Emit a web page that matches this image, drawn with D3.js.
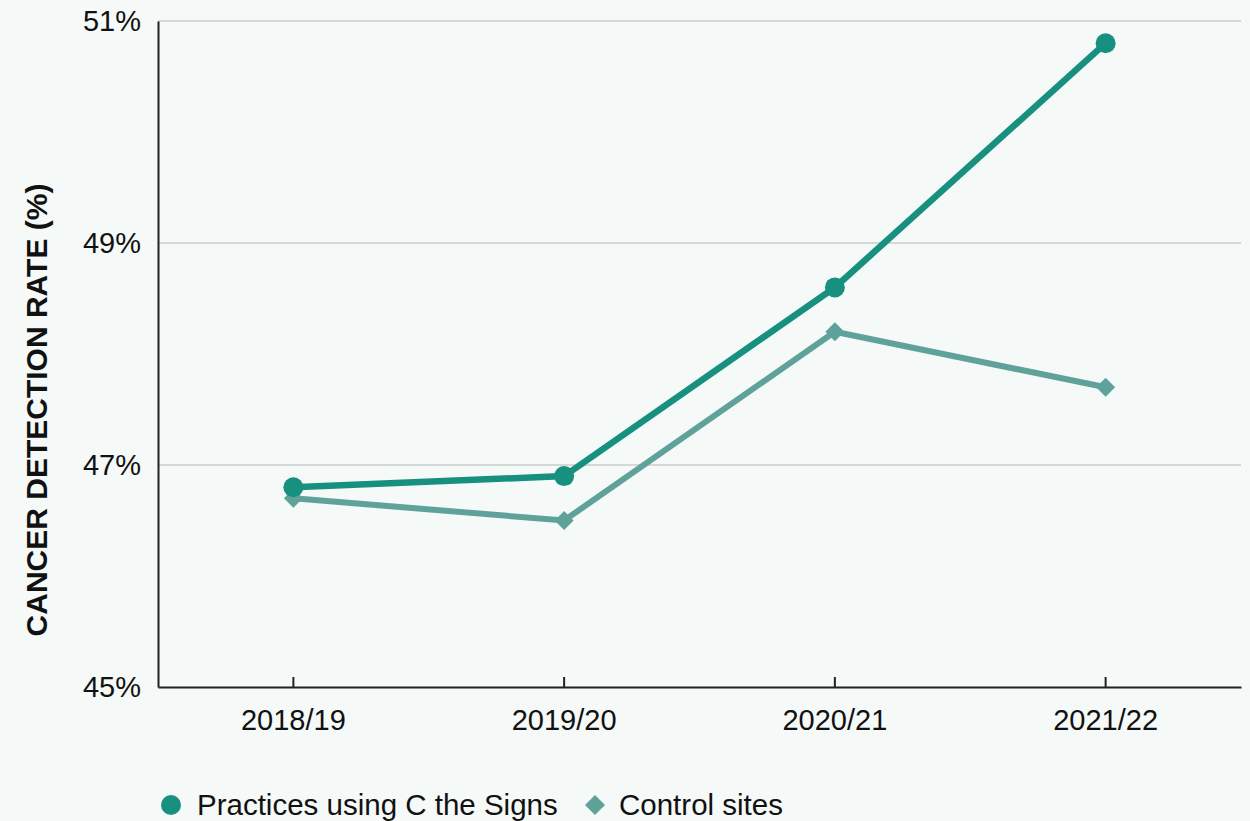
<!DOCTYPE html>
<html>
<head>
<meta charset="utf-8">
<script src="https://cdn.jsdelivr.net/npm/d3@7"></script>
<style>
  html, body { margin: 0; padding: 0; background: #f5f9f8; }
  svg { display: block; font-family: "Liberation Sans", Arial, sans-serif; }
</style>
</head>
<body>
<div id="chart"></div>
<script>
// school years on the x axis
const years = ["2018/19", "2019/20", "2020/21", "2021/22"];
// cancer detection rate, %
const practices = [46.8, 46.9, 48.6, 50.8];
const control = [46.7, 46.5, 48.2, 47.7];
const yTicks = [45, 47, 49, 51];
const seriesNames = ["Practices using C the Signs", "Control sites"];

let width = 1250;
let height = 821;
let margins = { top: 21, right: 9, bot: 134, left: 158 };
let chartWidth = width - margins.left - margins.right;
let chartHeight = height - margins.top - margins.bot;

let colPractice = "#17907f";
let colControl = "#5fa29a";

let svg = d3.select("#chart")
    .append("svg")
    .attr("width", width)
    .attr("height", height)
    .style("background", "#f5f9f8");

let g = svg.append("g")
    .attr("transform", "translate(" + margins.left + "," + margins.top + ")");

let xScale = d3.scaleBand()
    .domain(years)
    .range([0, chartWidth]);

let yScale = d3.scaleLinear()
    .domain([45, 51])
    .range([chartHeight, 0]);

// gridlines
g.append("g")
    .selectAll("line")
    .data(yTicks.filter(d => d > 45))
    .join("line")
    .attr("x1", 0)
    .attr("x2", chartWidth)
    .attr("y1", d => yScale(d))
    .attr("y2", d => yScale(d))
    .attr("stroke", "#c9cccb")
    .attr("stroke-width", 1.5);

// y axis
let yAxis = g.append("g")
    .call(d3.axisLeft(yScale).tickValues(yTicks).tickSize(0).tickPadding(17)
        .tickFormat(d => d + "%"));
yAxis.select(".domain").attr("stroke", "#222").attr("stroke-width", 2);
yAxis.selectAll("text")
    .attr("font-size", 29)
    .attr("fill", "#111")
    .attr("font-family", "Liberation Sans, Arial, sans-serif");

// x axis, ticks point inward
let xAxis = g.append("g")
    .attr("transform", "translate(0," + chartHeight + ")")
    .call(d3.axisBottom(xScale).tickSize(-10).tickSizeOuter(0).tickPadding(0));
xAxis.select(".domain").attr("stroke", "#222").attr("stroke-width", 2);
xAxis.selectAll(".tick line").attr("stroke", "#222").attr("stroke-width", 2);
xAxis.selectAll("text")
    .attr("font-size", 29)
    .attr("fill", "#111")
    .attr("font-family", "Liberation Sans, Arial, sans-serif")
    .attr("y", 43)
    .attr("dy", 0);

// axis title
svg.append("text")
    .attr("transform", "translate(47,410) rotate(-90)")
    .attr("text-anchor", "middle")
    .attr("font-size", 30)
    .attr("font-weight", "bold")
    .attr("fill", "#111")
    .text("CANCER DETECTION RATE (%)");

let xPos = (d, i) => xScale(years[i]) + xScale.bandwidth() / 2;
let line = d3.line()
    .x(xPos)
    .y(d => yScale(d));

// control series
g.append("path")
    .datum(control)
    .attr("fill", "none")
    .attr("stroke", colControl)
    .attr("stroke-width", 6)
    .attr("d", line);
g.selectAll(".ctrl")
    .data(control)
    .join("path")
    .attr("class", "ctrl")
    .attr("transform", (d, i) => "translate(" + xPos(d, i) + "," + yScale(d) + ")")
    .attr("d", d3.symbol(d3.symbolDiamond2, 230))
    .attr("fill", colControl);

// practices series
g.append("path")
    .datum(practices)
    .attr("fill", "none")
    .attr("stroke", colPractice)
    .attr("stroke-width", 6.5)
    .attr("d", line);
g.selectAll(".prac")
    .data(practices)
    .join("circle")
    .attr("class", "prac")
    .attr("cx", xPos)
    .attr("cy", d => yScale(d))
    .attr("r", 10)
    .attr("fill", colPractice);

// legend
let legend = svg.append("g");
legend.append("circle")
    .attr("cx", 171)
    .attr("cy", 805)
    .attr("r", 10)
    .attr("fill", colPractice);
legend.append("text")
    .attr("x", 197)
    .attr("y", 815)
    .attr("font-size", 29.5)
    .attr("fill", "#111")
    .text(seriesNames[0]);
legend.append("path")
    .attr("transform", "translate(595,805)")
    .attr("d", d3.symbol(d3.symbolDiamond2, 255))
    .attr("fill", colControl);
legend.append("text")
    .attr("x", 619)
    .attr("y", 815)
    .attr("font-size", 29.5)
    .attr("fill", "#111")
    .text(seriesNames[1]);
</script>
</body>
</html>
